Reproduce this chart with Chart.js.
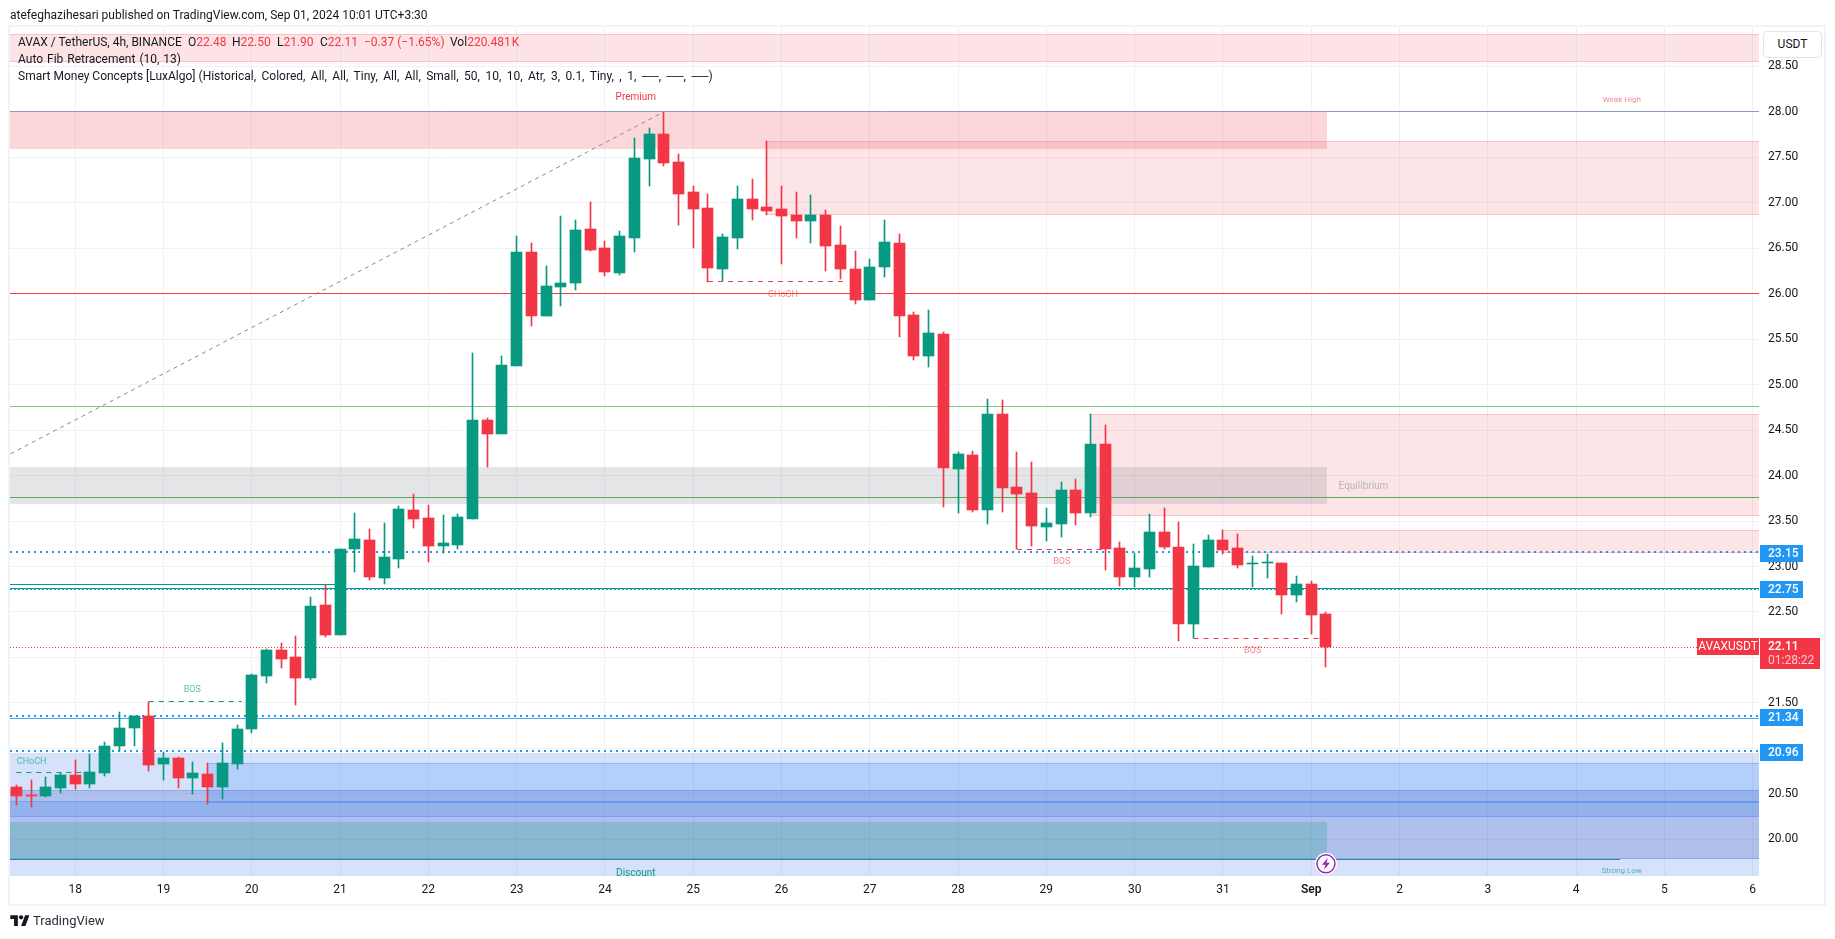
<!DOCTYPE html>
<html lang="en">
<head>
<meta charset="UTF-8">
<title>AVAX / TetherUS</title>
<script src="https://cdn.jsdelivr.net/npm/chart.js"></script>
<style>
    body { margin: 0; background: #fff; overflow: hidden; font-family: Roboto, sans-serif; color: #131722; }
    canvas { position: absolute; left: 0; top: 0; }
    #frame { position: absolute; left: 8px; top: 25px; width: 1814px; height: 877px; border: 2px solid #f0f3fa; }
    .t { position: absolute; font-size: 12px; line-height: 14px; white-space: nowrap; }
    .r { color: #f23645; }
    #usdt { position: absolute; left: 1763px; top: 31px; width: 57px; height: 25px; border: 1px solid #e0e3eb; border-radius: 4px;
        background: #fff; font-size: 12px; line-height: 25px; text-align: center; }
</style>
</head>
<body>
<div id="frame"></div>
<canvas id="chart" width="1835" height="939"></canvas>
<div class="t" style="left:10px;top:8px">atefeghazihesari published on TradingView.com, Sep 01, 2024 10:01 UTC+3:30</div>
<div class="t" style="left:18px;top:35px">AVAX / TetherUS, 4h, BINANCE</div>
<div class="t" style="left:188px;top:35px">O<span class="r">22.48</span></div>
<div class="t" style="left:232px;top:35px">H<span class="r">22.50</span></div>
<div class="t" style="left:277px;top:35px">L<span class="r">21.90</span></div>
<div class="t" style="left:320px;top:35px">C<span class="r">22.11</span></div>
<div class="t r" style="left:364px;top:35px">−0.37 (−1.65%)</div>
<div class="t" style="left:450px;top:35px">Vol<span class="r" style="word-spacing:-2px">220.481 K</span></div>
<div class="t" style="left:18px;top:52px;word-spacing:1px">Auto Fib Retracement (10, 13)</div>
<div class="t" style="left:18px;top:69px">Smart Money Concepts [LuxAlgo] <span style="word-spacing:2.5px">(Historical, Colored, All, All, Tiny, All, All, Small, 50, 10, 10, Atr, 3, 0.1, Tiny, , 1, ──, ──, ──)</span></div>
<div id="usdt">USDT</div>
<svg style="position:absolute;left:10px;top:913px" width="20" height="14" viewBox="0 0 36 26">
    <path fill="#131722" d="M14 24H7V11H0V4h14v20zM28 24h-8l7.500-20h8L28 24z"/><circle fill="#131722" cx="20" cy="8" r="4"/>
</svg>
<div class="t" style="left:33px;top:914px;font-size:13px;color:#2a2e39">TradingView</div>

<script>
    // candles, 4h
    const opens = [20.58,20.49,20.48,20.56,20.71,20.61,20.73,21.03,21.22,21.36,
        20.83,20.89,20.67,20.72,20.58,20.83,21.21,21.80,22.08,22.00,
        21.77,22.58,22.25,23.19,23.29,22.87,23.08,23.62,23.53,23.23,
        23.24,23.52,24.61,24.46,25.21,26.46,25.75,26.07,26.12,26.71,
        26.50,26.23,26.61,27.48,27.76,27.45,27.12,26.94,26.27,26.61,
        27.04,26.95,26.93,26.87,26.80,26.87,26.54,26.27,25.93,26.29,
        26.56,25.77,25.31,25.56,24.07,24.23,23.62,24.68,23.87,23.81,
        23.43,23.47,23.84,23.59,24.35,23.20,22.89,22.97,23.38,23.21,
        22.37,23.00,23.29,23.20,23.03,23.04,23.04,22.69,22.81,22.48];
    const highs = [20.60,20.65,20.69,20.73,20.87,20.94,21.07,21.40,21.36,21.51,
        20.96,20.90,20.85,20.84,21.06,21.26,21.82,22.09,22.16,22.24,
        22.66,22.80,23.19,23.59,23.41,23.48,23.67,23.80,23.68,23.57,
        23.58,25.35,24.63,25.31,26.63,26.56,26.31,26.85,26.81,27.01,
        26.58,26.69,27.71,27.82,28.00,27.54,27.18,27.10,26.66,27.18,
        27.26,27.68,27.19,27.12,27.09,26.92,26.74,26.47,26.38,26.81,
        26.66,25.80,25.82,25.58,24.26,24.27,24.84,24.83,24.26,24.15,
        23.64,23.93,23.96,24.68,24.56,23.27,23.15,23.58,23.64,23.49,
        23.25,23.35,23.40,23.36,23.12,23.14,23.04,22.90,22.84,22.50];
    const lows = [20.38,20.36,20.47,20.51,20.55,20.56,20.70,20.97,21.03,20.75,
        20.65,20.56,20.50,20.39,20.44,20.77,21.17,21.72,21.88,21.48,
        21.75,22.22,22.25,22.94,22.85,22.81,22.98,23.42,23.05,23.15,
        23.19,23.52,24.09,24.46,25.21,25.65,25.75,25.86,26.04,26.47,
        26.19,26.21,26.46,27.19,27.40,26.76,26.50,26.13,26.14,26.49,
        26.81,26.87,26.33,26.61,26.56,26.25,26.16,25.89,25.93,26.18,
        25.52,25.27,25.19,23.66,23.59,23.60,23.47,23.60,23.19,23.23,
        23.28,23.32,23.46,23.55,22.96,22.79,22.78,22.88,23.19,22.18,
        22.21,23.00,23.14,22.98,22.78,22.87,22.48,22.61,22.26,21.90];
    const closes = [20.48,20.48,20.58,20.71,20.61,20.74,21.03,21.22,21.36,20.82,
        20.89,20.67,20.73,20.58,20.84,21.21,21.81,22.08,21.98,21.77,
        22.57,22.25,23.19,23.30,22.89,23.10,23.63,23.52,23.23,23.26,
        23.54,24.61,24.46,25.22,26.46,25.75,26.08,26.12,26.70,26.48,
        26.24,26.63,27.49,27.76,27.44,27.10,26.93,26.28,26.62,27.04,
        26.93,26.91,26.85,26.80,26.87,26.52,26.27,25.93,26.29,26.57,
        25.75,25.31,25.57,24.08,24.24,23.62,24.68,23.86,23.80,23.45,
        23.48,23.84,23.59,24.35,23.19,22.88,22.98,23.38,23.21,22.37,
        23.01,23.29,23.18,23.02,23.04,23.05,22.69,22.81,22.47,22.11];

    // time axis, one label per 6 candles
    const dayLabels = ['18','19','20','21','22','23','24','25','26','27','28','29','30','31','Sep','2','3','4','5','6'];
    const dayTicks = [4,10,16,22,28,34,40,46,52,58,64,70,76,82,88,94,100,106,112,118];
    const xMin = -0.43, xMax = 118.43, yMin = 19.596, yMax = 28.934;

    // full width levels
    const levelPrices = [28.00, 26.00, 24.76, 23.76, 22.76, 21.33, 23.15, 22.745, 21.345, 20.965, 22.11];
    // struct breaks: candle from, candle to, price
    const breakFrom = [0, 9, 47, 68, 80];
    const breakTo = [4.8, 15.3, 56.3, 74, 88.7];
    const breakPrices = [20.73, 21.51, 26.13, 23.19, 22.21];
    // short solid pieces and the fib trend line
    const pieceFrom = [xMin, xMin, -0.39];
    const pieceTo = [22, 109, 44];
    const pieceStart = [22.80, 19.78, 24.24];
    const pieceEnd = [22.80, 19.78, 28.00];

    // zones
    const zoneFrom = [xMin, xMin, 51, 73, 82, xMin, xMin, 13, xMin, xMin, xMin];
    const zoneTo = [xMax, 89.07, xMax, xMax, xMax, 89.07, xMax, xMax, xMax, xMax, 89.07];
    const zoneTop = [28.855, 28.00, 27.68, 24.68, 23.40, 24.09, 20.95, 20.835, 20.542, 20.42, 20.19];
    const zoneBottom = [28.55, 27.595, 26.87, 23.56, 23.15, 23.69, 19.5, 20.396, 19.78, 20.24, 19.78];

    // small labels in the chart
    const noteTexts = ['Premium','Equilibrium','Discount','Weak High','Strong Low','CHoCH','BOS','CHoCH','BOS','BOS'];
    const noteX = [42.1, 91.55, 42.1, 109.1, 109.1, 1.04, 11.96, 52.1, 71.05, 84.02];
    const notePrices = [28.16, 23.88, 19.62, 28.13, 19.65, 20.85, 21.65, 25.99, 23.05, 22.07];

    // price tags on the axis
    const tagPrices = [23.15, 22.75, 21.34, 20.96];
    const lastPrice = 22.11, lastSymbol = 'AVAXUSDT', countdown = '01:28:22';
    const eventX = 89, eventPrice = 19.73;

    const GREEN = '#089981', RED = '#f23645', BLUE = '#2196f3';
    const FONT = 'Roboto, sans-serif';
    const candleColors = closes.map((c, i) => c >= opens[i] ? GREEN : RED);

    const levelStyles = [
        { c: '#8c9bc5', w: 1 }, { c: '#f44336', w: 1 }, { c: '#81c784', w: 1 }, { c: '#5aa95e', w: 1 },
        { c: GREEN, w: 1 }, { c: '#42a5f5', w: 1 },
        { c: BLUE, w: 2, d: [2, 4] }, { c: BLUE, w: 1, d: [2, 2] }, { c: BLUE, w: 2, d: [2, 4] }, { c: BLUE, w: 2, d: [2, 4] },
        { c: RED, w: 1, d: [1, 2] }
    ];
    const breakColors = [GREEN, GREEN, RED, RED, RED];
    const pieceStyles = [{ c: GREEN, w: 1 }, { c: '#26879c', w: 1 }, { c: '#868993', w: 1, d: [4, 4] }];
    const PINK_LINE = 'rgba(242,54,69,0.2)', BLUE_LINE = 'rgba(41,98,255,0.25)';
    const zoneStyles = [
        ['rgba(242,54,69,0.14)', PINK_LINE], ['rgba(242,54,69,0.2)', null], ['rgba(242,54,69,0.13)', PINK_LINE],
        ['rgba(242,54,69,0.13)', PINK_LINE], ['rgba(242,54,69,0.13)', PINK_LINE], ['rgba(120,123,134,0.2)', null],
        ['rgba(33,100,230,0.19)', null], ['rgba(41,130,250,0.19)', BLUE_LINE], ['rgba(80,110,200,0.29)', BLUE_LINE],
        ['rgba(41,120,245,0.2)', BLUE_LINE], ['rgba(8,153,129,0.22)', null]
    ];
    const TEAL_TEXT = 'rgba(8,153,129,0.65)', RED_TEXT = 'rgba(242,54,69,0.6)';
    const noteStyles = [
        [RED, 10], ['#b2b5be', 10], [GREEN, 10], [RED_TEXT, 8], [TEAL_TEXT, 8],
        [TEAL_TEXT, 9], [TEAL_TEXT, 9], [RED_TEXT, 9], [RED_TEXT, 9], [RED_TEXT, 9]
    ];

    function lineSet(x0, y0, x1, y1, style, snap) {
        return {
            type: 'line', data: [{ x: x0, y: y0 }, { x: x1, y: y1 }], borderColor: style.c, borderWidth: style.w,
            borderDash: style.d || [], pointRadius: 0, fill: false, order: 3, snap: snap
        };
    }

    const datasets = [
        {
            data: opens.map((o, i) => ({ x: i, y: [o, closes[i]] })), backgroundColor: candleColors,
            barThickness: 11, grouped: false, minBarLength: 1, order: 1
        },
        {
            data: opens.map((o, i) => ({ x: i, y: [lows[i], highs[i]] })), backgroundColor: candleColors,
            barThickness: 1, grouped: false, order: 2
        },
        ...levelPrices.map((p, i) => lineSet(xMin, p, xMax, p, levelStyles[i], true)),
        ...breakPrices.map((p, i) => lineSet(breakFrom[i], p, breakTo[i], p, { c: breakColors[i], w: 1, d: [5, 5] }, true)),
        ...pieceStart.map((p, i) => lineSet(pieceFrom[i], p, pieceTo[i], pieceEnd[i], pieceStyles[i], i < 2))
    ];

    const overlay = {
        id: 'overlay',
        beforeDatasetsDraw(chart) {
            const { ctx, chartArea: a, scales: { x, y } } = chart;
            // zones sit under the candles, grid still shows through
            ctx.save();
            ctx.beginPath();
            ctx.rect(a.left, a.top, a.width, a.height);
            ctx.clip();
            zoneTop.forEach((top, i) => {
                const x0 = x.getPixelForValue(zoneFrom[i]), x1 = x.getPixelForValue(zoneTo[i]);
                const y0 = Math.round(y.getPixelForValue(top)), y1 = Math.round(y.getPixelForValue(zoneBottom[i]));
                ctx.fillStyle = zoneStyles[i][0];
                ctx.fillRect(x0, y0, x1 - x0, y1 - y0);
                if (zoneStyles[i][1]) {
                    ctx.fillStyle = zoneStyles[i][1];
                    ctx.fillRect(x0, y0, x1 - x0, 1);
                    ctx.fillRect(x0, y1 - 1, x1 - x0, 1);
                }
            });
            ctx.restore();
            // snap marks to whole pixels so 1px wicks and lines stay crisp
            chart.data.datasets.forEach((ds, i) => {
                const meta = chart.getDatasetMeta(i);
                if (ds.type === 'line') {
                    if (ds.snap) meta.data.forEach(p => { p.y = Math.floor(p.y) + (ds.borderWidth % 2 ? 0.5 : 0); });
                    return;
                }
                meta.data.forEach(b => {
                    b.x = Math.floor(b.x) + 0.5;
                    b.y = Math.round(b.y);
                    b.base = Math.round(b.base);
                    if (b.y === b.base) b.base += 1;
                });
            });
        },
        afterDatasetsDraw(chart) {
            const { ctx, chartArea: a, scales: { x, y } } = chart;
            ctx.save();
            ctx.beginPath();
            ctx.rect(a.left, a.top, a.width, a.height);
            ctx.clip();
            ctx.textAlign = 'center';
            ctx.textBaseline = 'middle';
            noteTexts.forEach((t, i) => {
                ctx.fillStyle = noteStyles[i][0];
                ctx.font = noteStyles[i][1] + 'px ' + FONT;
                ctx.fillText(t, x.getPixelForValue(noteX[i]), y.getPixelForValue(notePrices[i]));
            });
            ctx.restore();
        },
        afterDraw(chart) {
            const { ctx, chartArea: a, scales: { x, y } } = chart;
            ctx.save();
            ctx.textBaseline = 'middle';
            ctx.textAlign = 'left';
            // blue tags
            tagPrices.forEach(p => {
                const py = Math.round(y.getPixelForValue(p));
                ctx.fillStyle = BLUE;
                ctx.fillRect(a.right + 1, py - 8, 43, 17);
                ctx.fillStyle = '#fff';
                ctx.font = '500 12px ' + FONT;
                ctx.fillText(p.toFixed(2), a.right + 9, py + 1);
            });
            // last price and countdown
            const ly = Math.round(y.getPixelForValue(lastPrice));
            ctx.fillStyle = RED;
            ctx.fillRect(a.right + 1, ly - 9, 60, 31);
            ctx.fillRect(a.right - 62, ly - 9, 62, 17);
            ctx.fillStyle = '#fff';
            ctx.font = '500 12px ' + FONT;
            ctx.fillText(lastPrice.toFixed(2), a.right + 9, ly);
            ctx.fillStyle = 'rgba(255,255,255,0.75)';
            ctx.font = '12px ' + FONT;
            ctx.fillText(countdown, a.right + 9, ly + 14);
            ctx.fillStyle = '#fff';
            ctx.textAlign = 'center';
            ctx.fillText(lastSymbol, a.right - 31, ly);
            // event marker
            const ex = x.getPixelForValue(eventX), ey = y.getPixelForValue(eventPrice);
            ctx.beginPath();
            ctx.arc(ex, ey, 11, 0, Math.PI * 2);
            ctx.fillStyle = '#fff';
            ctx.fill();
            ctx.beginPath();
            ctx.arc(ex, ey, 9, 0, Math.PI * 2);
            ctx.strokeStyle = '#9c27b0';
            ctx.lineWidth = 1.5;
            ctx.stroke();
            ctx.beginPath();
            ctx.moveTo(ex + 2, ey - 6);
            ctx.lineTo(ex - 4, ey + 1);
            ctx.lineTo(ex - 0.5, ey + 1);
            ctx.lineTo(ex - 2, ey + 6);
            ctx.lineTo(ex + 4, ey - 1);
            ctx.lineTo(ex + 0.5, ey - 1);
            ctx.closePath();
            ctx.fillStyle = '#9c27b0';
            ctx.fill();
            ctx.restore();
        }
    };

    new Chart(document.getElementById('chart'), {
        type: 'bar',
        data: { datasets },
        plugins: [overlay],
        options: {
            responsive: false,
            animation: false,
            layout: { padding: { left: 10, top: 27, right: 11, bottom: 36 } },
            plugins: { legend: { display: false }, tooltip: { enabled: false } },
            events: [],
            scales: {
                x: {
                    type: 'linear', min: xMin, max: xMax, offset: false,
                    afterBuildTicks: s => { s.ticks = dayTicks.map(v => ({ value: v })); },
                    afterFit: s => { s.height = 27; s.paddingLeft = 0; s.paddingRight = 0; },
                    grid: { color: '#f0f1f4', drawTicks: false, offset: false },
                    border: { display: false },
                    ticks: {
                        autoSkip: false, maxRotation: 0, padding: 7, color: '#131722',
                        font: c => ({ family: FONT, size: 12, weight: c.tick && c.tick.value === 88 ? '600' : '400' }),
                        callback: v => dayLabels[dayTicks.indexOf(v)]
                    }
                },
                y: {
                    type: 'linear', position: 'right', min: yMin, max: yMax,
                    afterFit: s => { s.width = 65; s.paddingTop = 0; s.paddingBottom = 0; },
                    grid: { color: '#f0f1f4', drawTicks: false },
                    border: { display: false },
                    ticks: {
                        stepSize: 0.5, includeBounds: false, padding: 9, color: '#131722',
                        font: { family: FONT, size: 12 },
                        // labels that sit under a price tag are dropped
                        callback: v => tagPrices.some(p => Math.abs(p - v) < 0.05) ? '' : v.toFixed(2)
                    }
                }
            }
        }
    });
</script>
</body>
</html>
